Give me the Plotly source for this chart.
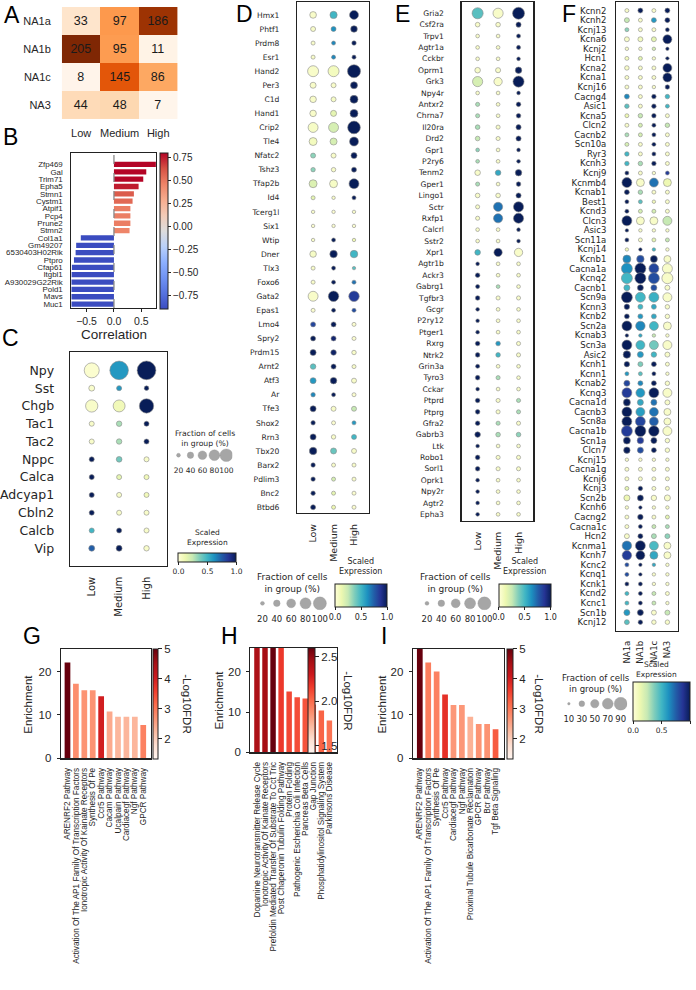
import plotly.graph_objects as go

# ---------------- data ----------------
A_clusters = ["NA1a", "NA1b", "NA1c", "NA3"]
A_levels = ["Low", "Medium", "High"]
A_counts = [[33, 97, 186], [205, 95, 11], [8, 145, 86], [44, 48, 7]]

B_genes = ["Zfp469", "Gal", "Trim71", "Epha5", "Stmn1", "Cystm1", "Atpif1", "Pcp4", "Prune2", "Stmn2",
           "Col1a1", "Gm49207", "6530403H02Rik", "Ptpro", "Cfap61", "Itgbl1", "A930029G22Rik", "Pold1", "Mavs", "Muc1"]
B_corr = [0.80, 0.59, 0.535, 0.45, 0.364, 0.34, 0.30, 0.30, 0.30, 0.285,
          -0.605, -0.69, -0.70, -0.73, -0.77, -0.78, -0.80, -0.82, -0.85, -0.89]

C_groups = ["Low", "Medium", "High"]
C_genes = ["Npy", "Sst", "Chgb", "Tac1", "Tac2", "Nppc", "Calca", "Adcyap1", "Cbln2", "Calcb", "Vip"]
C_expr = [[0.03, 0.6, 1.0], [0.04, 0.6, 1.0], [0.05, 0.1, 1.0], [0.05, 0.3, 1.0], [0.05, 0.3, 1.0],
          [1.0, 0.4, 0.05], [1.0, 0.15, 0.1], [1.0, 0.05, 0.1], [1.0, 0.05, 0.05], [0.5, 1.0, 0.05],
          [0.75, 1.0, 0.05]]
C_frac = [[73, 97, 98], [21, 17, 15], [56, 54, 69], [17, 19, 17], [17, 19, 17], [17, 20, 17],
          [17, 17, 17], [17, 17, 17], [17, 17, 17], [17, 17, 17], [21, 21, 19]]
C_legend = [20, 40, 60, 80, 100]

D_groups = ["Low", "Medium", "High"]
D_genes = ["Hmx1", "Phtf1", "Prdm8", "Esr1", "Hand2", "Per3", "C1d", "Hand1", "Crip2", "Tle4", "Nfatc2",
           "Tshz3", "Tfap2b", "Id4", "Tcerg1l", "Six1", "Wtip", "Dner", "Tlx3", "Foxo6", "Gata2", "Epas1",
           "Lmo4", "Spry2", "Prdm15", "Arnt2", "Atf3", "Ar", "Tfe3", "Shox2", "Rrn3", "Tbx20", "Barx2",
           "Pdlim3", "Bnc2", "Btbd6"]
D_expr = [[0.05, 0.5, 1.0], [0.05, 0.62, 1.0], [0.05, 0.65, 1.0], [0.05, 0.65, 1.0], [0.05, 0.08, 1.0],
          [0.05, 0.05, 1.0], [0.05, 0.06, 1.0], [0.05, 0.15, 1.0], [0.06, 0.2, 1.0], [0.08, 0.2, 1.0],
          [0.35, 0.05, 1.0], [0.35, 0.05, 1.0], [0.18, 0.06, 1.0], [0.15, 0.05, 1.0], [0.05, 0.03, 0.05],
          [0.03, 0.03, 0.03], [0.05, 1.0, 0.12], [0.06, 1.0, 0.5], [0.05, 1.0, 0.45], [0.05, 1.0, 0.7],
          [0.05, 1.0, 0.85], [0.03, 1.0, 0.8], [0.82, 1.0, 0.03], [1.0, 0.95, 0.03], [1.0, 0.97, 0.05],
          [0.45, 1.0, 0.05], [0.6, 1.0, 0.05], [0.65, 1.0, 0.03], [1.0, 0.05, 0.25], [1.0, 0.03, 0.6],
          [1.0, 0.05, 0.5], [1.0, 0.42, 0.05], [1.0, 0.05, 0.05], [1.0, 0.2, 0.05], [1.0, 0.15, 0.03],
          [1.0, 0.12, 0.03]]
D_frac = [[41, 46, 61], [28, 28, 41], [21, 21, 24], [21, 21, 21], [80, 80, 100], [36, 28, 44],
          [40, 28, 52], [40, 36, 52], [70, 70, 97], [52, 44, 61], [28, 28, 36], [24, 24, 28],
          [52, 52, 70], [21, 17, 21], [17, 17, 17], [17, 17, 17], [17, 21, 17], [40, 48, 48],
          [21, 21, 17], [21, 21, 21], [70, 75, 75], [21, 21, 21], [28, 28, 21], [28, 28, 21],
          [36, 32, 24], [32, 28, 21], [36, 40, 28], [24, 21, 21], [36, 28, 28], [24, 21, 21],
          [36, 24, 28], [48, 36, 28], [24, 21, 21], [24, 21, 21], [24, 21, 21], [28, 21, 21]]
D_legend = [20, 40, 60, 80, 100]

E_groups = ["Low", "Medium", "High"]
E_genes = ["Gria2", "Csf2ra", "Trpv1", "Agtr1a", "Cckbr", "Oprm1", "Grk3", "Npy4r", "Antxr2", "Chrna7",
           "Il20ra", "Drd2", "Gpr1", "P2ry6", "Tenm2", "Gper1", "Lingo1", "Sctr", "Rxfp1", "Calcrl",
           "Sstr2", "Xpr1", "Agtr1b", "Ackr3", "Gabrg1", "Tgfbr3", "Gcgr", "P2ry12", "Ptger1", "Rxrg",
           "Ntrk2", "Grin3a", "Tyro3", "Cckar", "Ptprd", "Ptprg", "Gfra2", "Gabrb3", "Ltk", "Robo1",
           "Sorl1", "Oprk1", "Npy2r", "Agtr2", "Epha3"]
E_expr = [[0.45, 0.05, 1.0], [0.05, 0.05, 1.0], [0.05, 0.05, 1.0], [0.05, 0.05, 1.0], [0.05, 0.05, 1.0],
          [0.05, 0.05, 1.0], [0.2, 0.05, 1.0], [0.05, 0.05, 1.0], [0.3, 0.05, 1.0], [0.3, 0.05, 1.0],
          [0.3, 0.05, 1.0], [0.25, 0.05, 1.0], [0.35, 0.05, 1.0], [0.3, 0.05, 1.0], [0.05, 0.55, 1.0],
          [0.3, 0.05, 1.0], [0.05, 0.05, 1.0], [0.05, 0.7, 1.0], [0.05, 0.7, 1.0], [0.05, 0.05, 1.0],
          [0.05, 0.05, 1.0], [0.5, 1.0, 0.05], [1.0, 0.05, 0.05], [1.0, 0.05, 0.05], [1.0, 0.3, 0.05],
          [1.0, 0.05, 0.05], [1.0, 0.05, 0.05], [1.0, 0.05, 0.05], [1.0, 0.05, 0.05], [1.0, 0.6, 0.05],
          [1.0, 0.5, 0.05], [1.0, 0.05, 0.05], [1.0, 0.3, 0.05], [1.0, 0.05, 0.05], [1.0, 0.05, 0.3],
          [1.0, 0.05, 0.3], [1.0, 0.3, 0.05], [1.0, 0.3, 0.35], [1.0, 0.05, 0.05], [1.0, 0.05, 0.05],
          [1.0, 0.05, 0.05], [1.0, 0.05, 0.05], [1.0, 0.05, 0.05], [1.0, 0.05, 0.05], [1.0, 0.05, 0.05]]
E_frac = [[90, 80, 100], [28, 28, 32], [21, 21, 24], [21, 21, 24], [21, 21, 21], [36, 32, 44],
          [80, 61, 90], [21, 21, 21], [24, 21, 28], [24, 21, 28], [28, 24, 32], [28, 24, 32],
          [21, 21, 21], [21, 21, 21], [36, 36, 44], [24, 21, 28], [28, 28, 32], [24, 70, 80],
          [24, 70, 80], [21, 21, 21], [21, 21, 21], [36, 61, 61], [21, 21, 21], [28, 21, 21],
          [24, 21, 21], [28, 24, 24], [21, 21, 21], [21, 21, 21], [21, 21, 21], [28, 28, 24],
          [28, 28, 24], [24, 21, 21], [28, 24, 21], [21, 21, 21], [28, 24, 24], [28, 24, 24],
          [28, 24, 24], [36, 28, 28], [21, 21, 21], [28, 24, 24], [28, 24, 24], [21, 21, 21],
          [21, 21, 21], [21, 21, 21], [21, 21, 21]]
E_legend = [20, 40, 60, 80, 100]

F_groups = ["NA1a", "NA1b", "NA1c", "NA3"]
F_genes = ["Kcnn2", "Kcnh2", "Kcnj13", "Kcna6", "Kcnj2", "Hcn1", "Kcna2", "Kcna1", "Kcnj16", "Cacng4",
           "Asic1", "Kcna5", "Clcn2", "Cacnb2", "Scn10a", "Ryr3", "Kcnh3", "Kcnj9", "Kcnmb4", "Kcnab1",
           "Best1", "Kcnd3", "Clcn3", "Asic3", "Scn11a", "Kcnj14", "Kcnb1", "Cacna1a", "Kcnq2", "Cacnb1",
           "Scn9a", "Kcnn3", "Kcnb2", "Scn2a", "Kcnab3", "Scn3a", "Asic2", "Kcnh1", "Kcnn1", "Kcnab2",
           "Kcnq3", "Cacna1d", "Cacnb3", "Scn8a", "Cacna1b", "Scn1a", "Clcn7", "Kcnj15", "Cacna1g", "Kcnj6",
           "Kcnj3", "Scn2b", "Kcnh6", "Cacng2", "Cacna1c", "Hcn2", "Kcnma1", "Kcnh7", "Kcnc2", "Kcnq1",
           "Kcnk1", "Kcnd2", "Kcnc1", "Scn1b", "Kcnj12"]
F_expr = [[0.05, 1.0, 0.05, 1.0], [0.25, 0.05, 0.6, 1.0], [0.35, 0.05, 0.05, 1.0], [0.05, 0.08, 0.15, 1.0],
          [0.05, 0.05, 0.2, 1.0], [0.08, 0.15, 0.05, 1.0], [0.05, 0.05, 0.05, 1.0], [0.05, 0.05, 0.05, 1.0],
          [0.05, 0.05, 0.05, 1.0], [0.65, 0.05, 1.0, 0.5], [0.45, 0.05, 1.0, 0.5], [0.12, 0.25, 1.0, 0.05],
          [0.05, 0.2, 1.0, 0.25], [0.3, 0.2, 1.0, 0.05], [0.2, 0.05, 1.0, 0.05], [0.5, 0.05, 1.0, 0.05],
          [0.5, 0.3, 1.0, 0.05], [1.0, 0.05, 0.05, 0.85], [1.0, 0.05, 0.7, 0.12], [1.0, 0.3, 0.05, 0.05],
          [1.0, 0.45, 0.1, 0.05], [1.0, 0.2, 0.2, 0.05], [1.0, 0.05, 0.05, 0.25], [1.0, 0.05, 0.05, 0.05],
          [1.0, 0.05, 0.15, 0.25], [0.1, 1.0, 0.5, 0.05], [0.65, 0.8, 1.0, 0.05], [0.62, 1.0, 0.82, 0.05],
          [0.5, 1.0, 0.8, 0.05], [0.5, 1.0, 0.8, 0.05], [1.0, 0.5, 0.52, 0.05], [1.0, 0.5, 0.55, 0.05],
          [1.0, 0.6, 0.55, 0.05], [1.0, 0.65, 0.5, 0.05], [1.0, 0.55, 0.25, 0.05], [1.0, 0.5, 0.4, 0.05],
          [1.0, 0.6, 0.5, 0.05], [1.0, 0.38, 1.0, 0.05], [0.6, 0.45, 1.0, 0.05], [0.82, 0.65, 1.0, 0.05],
          [0.85, 0.6, 1.0, 0.05], [1.0, 0.55, 0.7, 0.05], [1.0, 0.58, 0.7, 0.05], [1.0, 0.82, 0.75, 0.05],
          [0.85, 1.0, 1.0, 0.05], [1.0, 0.85, 1.0, 0.05], [1.0, 0.8, 1.0, 0.05], [0.05, 0.05, 0.05, 0.05],
          [0.05, 0.05, 0.05, 0.05], [0.05, 0.05, 0.05, 0.05], [0.15, 1.0, 0.05, 0.05], [0.12, 1.0, 0.05, 0.05],
          [0.05, 1.0, 0.05, 0.05], [0.05, 1.0, 0.05, 0.15], [0.05, 1.0, 0.25, 0.3], [0.05, 1.0, 0.3, 0.35],
          [0.7, 1.0, 0.48, 0.05], [0.85, 1.0, 0.55, 0.05], [0.8, 1.0, 0.55, 0.05], [0.8, 1.0, 0.05, 0.05],
          [1.0, 1.0, 0.05, 0.05], [0.5, 1.0, 0.25, 0.05], [0.5, 1.0, 0.25, 0.05], [0.6, 1.0, 0.05, 0.25],
          [0.45, 1.0, 0.05, 0.05]]
F_frac = [[23, 31, 23, 31], [31, 23, 31, 31], [23, 23, 23, 23], [31, 31, 31, 68], [19, 19, 19, 19],
          [23, 23, 19, 19], [27, 23, 23, 68], [23, 23, 23, 68], [23, 23, 19, 27], [31, 23, 27, 27],
          [27, 23, 27, 23], [23, 27, 27, 23], [23, 23, 23, 27], [23, 23, 23, 23], [23, 23, 23, 23],
          [27, 23, 23, 23], [27, 27, 27, 23], [23, 23, 19, 23], [78, 58, 68, 58], [31, 27, 23, 23],
          [23, 23, 19, 23], [23, 23, 23, 23], [78, 58, 58, 68], [19, 19, 19, 19], [23, 23, 23, 23],
          [19, 19, 19, 19], [58, 53, 49, 49], [89, 89, 78, 78], [89, 89, 89, 89], [40, 40, 40, 31],
          [89, 78, 78, 68], [35, 31, 31, 27], [31, 31, 31, 27], [78, 73, 68, 58], [19, 19, 19, 19],
          [78, 68, 68, 68], [53, 40, 35, 31], [35, 31, 31, 23], [23, 23, 23, 19], [40, 31, 31, 27],
          [78, 68, 78, 68], [49, 40, 40, 31], [78, 68, 68, 49], [78, 78, 68, 49], [89, 89, 84, 68],
          [49, 44, 40, 27], [44, 40, 31, 27], [19, 19, 19, 19], [23, 23, 23, 23], [23, 23, 23, 23],
          [23, 27, 23, 23], [40, 40, 35, 40], [19, 19, 19, 19], [23, 35, 23, 23], [23, 23, 23, 23],
          [31, 31, 31, 31], [73, 78, 68, 49], [73, 68, 58, 49], [23, 19, 19, 19], [23, 19, 19, 19],
          [23, 23, 19, 19], [23, 23, 23, 23], [23, 23, 23, 19], [40, 40, 31, 31], [31, 27, 27, 27]]
F_legend = [10, 30, 50, 70, 90]

G_terms = ["ARENRF2 Pathway", "Activation Of The AP1 Family Of Transcription Factors",
           "Ionotropic Activity Of Kainate Receptors", "Synthesis Of Pe", "Ccr5 Pathway", "Cacam Pathway",
           "Ucalpain Pathway", "Cardiacegf Pathway", "Ngf Pathway", "GPCR Pathway"]
G_enrich = [22.1, 17.2, 15.7, 15.7, 14.3, 10.8, 9.6, 9.6, 9.6, 7.7]
G_logfdr = [5.0, 2.75, 2.7, 2.7, 4.0, 2.45, 2.3, 2.3, 2.3, 2.9]

H_terms = ["Dopamine Neurotransmitter Release Cycle", "Ionotropic Activity Of Kainate Receptors",
           "Prefoldin Mediated Transfer Of Substrate To Cct Tric", "Post Chaperonin Tubulin Folding Pathway",
           "Protein Folding", "Pathogenic Escherichia Coli Infection", "Pancreas Beta Cells", "Gap Junction",
           "Phosphatidylinositol Signaling System", "Parkinsons Disease"]
H_enrich = [30, 30, 30, 30, 15.1, 13.7, 13.4, 11.9, 10.4, 7.9]
H_logfdr = [2.42, 2.45, 2.6, 2.17, 2.12, 2.1, 2.08, 2.05, 2.03, 1.98]

I_terms = ["ARENRF2 Pathway", "Activation Of The AP1 Family Of Transcription Factors", "Synthesis Of Pe",
           "Ccr5 Pathway", "Cardiacegf Pathway", "Ngf Pathway", "Proximal Tubule Bicarbonate Reclamation",
           "GPCR Pathway", "Bcr Pathway", "Tgf Beta Signaling"]
I_enrich = [27.0, 22.1, 20.0, 14.7, 12.3, 12.3, 9.6, 7.9, 7.9, 6.7]
I_logfdr = [5.0, 2.95, 2.9, 3.75, 2.65, 2.65, 2.35, 2.7, 2.7, 3.3]

# ---------------- styling helpers ----------------
W, H = 696, 990
SANS = "Liberation Sans, Arial, sans-serif"
DV = "DejaVu Sans, sans-serif"
TXT = "#262626"

YLGNBU = [[0, '#ffffd9'], [0.125, '#edf8b1'], [0.25, '#c7e9b4'], [0.375, '#7fcdbb'], [0.5, '#41b6c4'],
          [0.625, '#1d91c0'], [0.75, '#225ea8'], [0.875, '#253494'], [1, '#081d58']]
REDS = [[0, '#fff5f0'], [0.125, '#fee0d2'], [0.25, '#fcbba1'], [0.375, '#fc9272'], [0.5, '#fb6a4a'],
        [0.625, '#ef3b2c'], [0.75, '#cb181d'], [0.875, '#a50f15'], [1, '#67000d']]
ORANGES = [[0, '#fff5eb'], [0.125, '#fee6ce'], [0.25, '#fdd0a2'], [0.375, '#fdae6b'], [0.5, '#fd8d3c'],
           [0.625, '#f16913'], [0.75, '#d94801'], [0.875, '#a63603'], [1, '#7f2704']]
COOLWARM = [[0, '#3b4cc0'], [0.1, '#5572df'], [0.2, '#6f92f3'], [0.3, '#8db0fe'], [0.4, '#b9d0f9'],
            [0.5, '#dddcdc'], [0.6, '#f2cbb7'], [0.7, '#f7ac8e'], [0.8, '#ee8468'], [0.9, '#d65244'],
            [1, '#b40426']]


def dx(a, b):
    return [a / W, b / W]


def dy(top, bot):
    return [1 - bot / H, 1 - top / H]


def X(px):
    return px / W


def Y(py):
    return 1 - py / H


fig = go.Figure()
layout = dict(width=W, height=H, margin=dict(l=0, r=0, t=0, b=0), paper_bgcolor='white',
              plot_bgcolor='rgba(0,0,0,0)', showlegend=False, font=dict(family=SANS, color=TXT))
annotations = []
shapes = []


def axname(i, kind):
    return f"{kind}axis" if i == 1 else f"{kind}axis{i}"


def ref(i, kind):
    return kind if i == 1 else f"{kind}{i}"


def ann(text, px, py, size, family=SANS, angle=0, xanchor='center', yanchor='middle', color=TXT):
    annotations.append(dict(text=text, x=X(px), y=Y(py), xref='paper', yref='paper', showarrow=False,
                            font=dict(size=size, family=family, color=color), textangle=angle,
                            xanchor=xanchor, yanchor=yanchor, align='center'))


box = dict(showline=True, mirror=True, linecolor='#222', linewidth=1.2, showgrid=False, zeroline=False)

# ---------------- A heatmap ----------------
fig.add_trace(go.Heatmap(z=A_counts, x=A_levels, y=A_clusters, colorscale=ORANGES,
                         zmin=min(min(r) for r in A_counts), zmax=max(max(r) for r in A_counts),
                         showscale=False, texttemplate="%{z}",
                         textfont=dict(size=12.5, family=SANS, color='#1a1a1a'),
                         xaxis='x', yaxis='y', hoverinfo='skip'))
layout['xaxis'] = dict(domain=dx(61, 177), anchor='y', showline=False, showgrid=False, zeroline=False,
                       ticks='', tickfont=dict(size=11, family=SANS, color=TXT), ticklabelstandoff=6)
layout['yaxis'] = dict(domain=dy(7, 120), anchor='x', autorange='reversed', showline=False, showgrid=False,
                       zeroline=False, ticks='', tickfont=dict(size=11, family=SANS, color=TXT),
                       ticklabelstandoff=10)

# ---------------- B correlation bars ----------------
fig.add_trace(go.Bar(x=B_corr, y=B_genes, orientation='h', width=0.72,
                     marker=dict(color=B_corr, coloraxis='coloraxis', line=dict(width=0)),
                     xaxis='x2', yaxis='y2', hoverinfo='skip'))
fig.add_trace(go.Scatter(x=[0, 0], y=[B_genes[0], B_genes[0]], mode='markers',
                         marker=dict(size=0, opacity=0, line=dict(width=0),
                                     color=[min(B_corr), max(B_corr)], coloraxis='coloraxis2'),
                         xaxis='x2', yaxis='y2', hoverinfo='skip'))
layout['xaxis2'] = dict(domain=dx(70.7, 155.3), anchor='y2', range=[-0.775, 0.765], tickvals=[-0.5, 0, 0.5],
                        ticktext=['−0.5', '0.0', '0.5'], ticks='outside', ticklen=3, tickcolor='#222',
                        tickfont=dict(size=10.5, family=SANS, color=TXT), **box)
layout['yaxis2'] = dict(domain=dy(154, 310), anchor='x2', type='category', range=[len(B_genes) - 0.45, -1.55],
                        tickmode='array', tickvals=B_genes, ticktext=B_genes,
                        ticks='', tickfont=dict(size=7.9, family=SANS, color=TXT), ticklabelstandoff=6, **box)
shapes.append(dict(type='line', xref='x2', yref='y2 domain', x0=0, x1=0, y0=0, y1=1,
                   line=dict(color='#8a8a8a', width=1.3, dash='dash')))
ann('Correlation', 113, 337, 13.5)
layout['coloraxis'] = dict(colorscale=COOLWARM, cmin=-0.48, cmax=0.48, showscale=False)
layout['coloraxis2'] = dict(colorscale=COOLWARM, cmin=min(B_corr), cmax=max(B_corr), showscale=True,
                            colorbar=dict(x=X(159), xanchor='left', y=Y(232), yanchor='middle', len=156,
                                          lenmode='pixels', thickness=8, thicknessmode='pixels',
                                          outlinewidth=1, outlinecolor='#222', xpad=0, ypad=0,
                                          tickvals=[-0.75, -0.5, -0.25, 0, 0.25, 0.5, 0.75],
                                          ticktext=['−0.75', '−0.50', '−0.25', '0.00', '0.25', '0.50', '0.75'],
                                          ticks='outside', ticklen=3, tickcolor='#222',
                                          tickfont=dict(size=10, family=SANS, color=TXT)))


# ---------------- dot plots ----------------
def dotplot(idx, genes, groups, expr, frac, cax, dmax, xdom, ydom, pads, gfont, cfont, gstand, cstand):
    xs, ys, cs, ss = [], [], [], []
    for i in range(len(genes)):
        for j in range(len(groups)):
            xs.append(j)
            ys.append(i)
            cs.append(expr[i][j])
            ss.append(dmax * (frac[i][j] / 100.0) ** 0.75)
    fig.add_trace(go.Scatter(x=xs, y=ys, mode='markers', xaxis=ref(idx, 'x'), yaxis=ref(idx, 'y'),
                             marker=dict(size=ss, color=cs, coloraxis=cax, opacity=1,
                                         line=dict(width=0.6, color='#8a8a8a')),
                             hoverinfo='skip'))
    pl, pr, pt, pb = pads
    layout[axname(idx, 'x')] = dict(domain=dx(*xdom), anchor=ref(idx, 'y'), range=[-pl, len(groups) - 1 + pr],
                                    tickvals=list(range(len(groups))), ticktext=groups, tickangle=-90,
                                    ticks='', tickfont=dict(size=cfont, family=DV, color=TXT),
                                    ticklabelstandoff=cstand, **box)
    layout[axname(idx, 'y')] = dict(domain=dy(*ydom), anchor=ref(idx, 'x'), range=[len(genes) - 1 + pb, -pt],
                                    tickvals=list(range(len(genes))), ticktext=genes, ticks='',
                                    tickfont=dict(size=gfont, family=DV, color=TXT),
                                    ticklabelstandoff=gstand, **box)


def size_legend(idx, vals, lmax, xdom, cy, font):
    fig.add_trace(go.Scatter(x=list(range(len(vals))), y=[0] * len(vals), mode='markers',
                             xaxis=ref(idx, 'x'), yaxis=ref(idx, 'y'),
                             marker=dict(size=[lmax * (v / 100.0) ** 0.75 for v in vals], color='#808080',
                                         line=dict(width=0.4, color='#707070')),
                             hoverinfo='skip'))
    layout[axname(idx, 'x')] = dict(domain=dx(*xdom), anchor=ref(idx, 'y'), range=[-0.5, len(vals) - 0.5],
                                    tickvals=list(range(len(vals))), ticktext=[str(v) for v in vals],
                                    tickangle=0, ticks='', showline=False, showgrid=False, zeroline=False,
                                    tickfont=dict(size=font, family=DV, color=TXT), ticklabelstandoff=2)
    layout[axname(idx, 'y')] = dict(domain=dy(cy - 7, cy + 7), anchor=ref(idx, 'x'), range=[-1, 1],
                                    visible=False)


def hcolorbar(name, x0, x1, top, thick, font):
    layout[name] = dict(colorscale=YLGNBU, cmin=0, cmax=1, showscale=True,
                        colorbar=dict(orientation='h', x=X(x0), xanchor='left', y=Y(top), yanchor='top',
                                      len=x1 - x0, lenmode='pixels', thickness=thick, thicknessmode='pixels',
                                      outlinewidth=1, outlinecolor='#222', xpad=0, ypad=0,
                                      tickvals=[0, 0.5, 1], ticktext=['0.0', '0.5', '1.0'], ticks='outside',
                                      ticklen=3, tickcolor='#222',
                                      tickfont=dict(size=font, family=DV, color=TXT)))


# C
dotplot(3, C_genes, C_groups, C_expr, C_frac, 'coloraxis3', 19.0, (69, 166), (354, 569),
        (0.8, 0.73, 1.04, 0.97), 12.5, 10, 12, 6)
size_legend(10, C_legend, 12.7, (172, 232), 458, 7.5)
ann('Fraction of cells<br>in group (%)', 205, 441, 7.7, DV)
hcolorbar('coloraxis3', 178, 236, 556, 9, 7.5)
ann('Scaled<br>Expression', 207, 541, 7.5, DV)

# D
dotplot(4, D_genes, D_groups, D_expr, D_frac, 'coloraxis4', 13.0, (297, 369), (2, 516),
        (0.78, 0.73, 0.92, 0.4), 7.6, 9.5, 15, 6)
size_legend(11, D_legend, 13.0, (255, 327), 607, 8.5)
ann('Fraction of cells<br>in group (%)', 292, 587, 9, DV)
hcolorbar('coloraxis4', 335, 387, 588, 23, 8)
ann('Scaled<br>Expression', 361, 570, 8, DV)

# E
dotplot(5, E_genes, E_groups, E_expr, E_frac, 'coloraxis5', 12.0, (462, 534), (2, 524),
        (0.78, 0.73, 0.99, 0.57), 7.6, 9.5, 15, 6)
size_legend(12, E_legend, 13.0, (420, 492), 607, 8.5)
ann('Fraction of cells<br>in group (%)', 456, 587, 9, DV)
hcolorbar('coloraxis5', 499, 551, 588, 23, 8)
ann('Scaled<br>Expression', 525, 570, 8, DV)

# F
dotplot(6, F_genes, F_groups, F_expr, F_frac, 'coloraxis6', 12.0, (617, 679), (2, 635),
        (0.79, 0.79, 0.9, 0.94), 8.5, 8.5, 7, 5)
size_legend(13, F_legend, 14.0, (563, 628), 708, 8.5)
ann('Fraction of cells<br>in group (%)', 597, 688, 8.6, DV)
hcolorbar('coloraxis6', 634, 691, 686, 39, 7.5)
ann('Scaled<br>Expression', 657, 674, 7.5, DV)


# ---------------- G / H / I enrichment bars ----------------
def enrich(idx, terms, vals, fdr, cax, xdom, ydom, yrange, xr, cmin, cmax, cbx, cbthick, cbticks, cbtext,
           fdr_x, enr_x):
    fig.add_trace(go.Bar(x=terms, y=vals, width=0.68, xaxis=ref(idx, 'x'), yaxis=ref(idx, 'y'),
                         marker=dict(color=fdr, coloraxis=cax, line=dict(width=0)), hoverinfo='skip'))
    layout[axname(idx, 'x')] = dict(domain=dx(*xdom), anchor=ref(idx, 'y'), type='category', range=xr,
                                    tickmode='array', tickvals=terms, ticktext=terms,
                                    tickangle=-90, ticks='', tickfont=dict(size=8.2, family=SANS, color=TXT),
                                    ticklabelstandoff=5, **box)
    layout[axname(idx, 'y')] = dict(domain=dy(*ydom), anchor=ref(idx, 'x'), range=yrange, tickvals=[0, 10, 20],
                                    ticks='outside', ticklen=3, tickcolor='#222',
                                    tickfont=dict(size=11.5, family=SANS, color=TXT), ticklabelstandoff=3,
                                    **box)
    top, bot = ydom
    layout[cax] = dict(colorscale=REDS, cmin=cmin, cmax=cmax, showscale=True,
                       colorbar=dict(x=X(cbx), xanchor='left', y=Y((top + bot) / 2), yanchor='middle',
                                     len=bot - top, lenmode='pixels', thickness=cbthick, thicknessmode='pixels',
                                     outlinewidth=1, outlinecolor='#222', xpad=0, ypad=0,
                                     tickvals=cbticks, ticktext=cbtext, ticks='outside', ticklen=4,
                                     tickcolor='#222', tickfont=dict(size=11.5, family=SANS, color=TXT)))
    ann('-Log10FDR', fdr_x, (top + bot) / 2, 11.5, SANS, angle=90)
    ann('Enrichment', enr_x, (top + bot) / 2, 11.5, SANS, angle=-90)


enrich(7, G_terms, G_enrich, G_logfdr, 'coloraxis7', (60, 150), (653, 763), [0, 25.2], [-0.79, 9.87],
       1.33, 5.0, 152.7, 4.5, [2, 3, 4, 5], ['2', '3', '4', '5'], 187, 27)
enrich(8, H_terms, H_enrich, H_logfdr, 'coloraxis8', (250, 337), (652, 757), [0, 25.9], [-0.83, 9.95],
       1.42, 2.6, 308, 6.5, [1.5, 2.0, 2.5], ['1.5', '2.0', '2.5'], 348, 219)
enrich(9, I_terms, I_enrich, I_logfdr, 'coloraxis9', (413, 504), (653, 763), [0, 25.2], [-0.83, 9.95],
       1.33, 5.0, 507, 6, [2, 3, 4, 5], ['2', '3', '4', '5'], 540, 382)

# ---------------- panel letters ----------------
for letter, px, py in [("A", 11, 15), ("B", 10, 138), ("C", 10, 340), ("D", 244, 14), ("E", 403, 14),
                       ("F", 570, 14), ("G", 31, 640), ("H", 229, 640), ("I", 384, 640)]:
    ann(letter, px, py, 23, SANS, color='#000')

layout['annotations'] = annotations
layout['shapes'] = shapes
fig.update_layout(**layout)
fig.write_html("out.html", config={'displayModeBar': False, 'staticPlot': True},
               post_script="document.body.style.margin='0px';document.body.style.overflow='hidden';")
